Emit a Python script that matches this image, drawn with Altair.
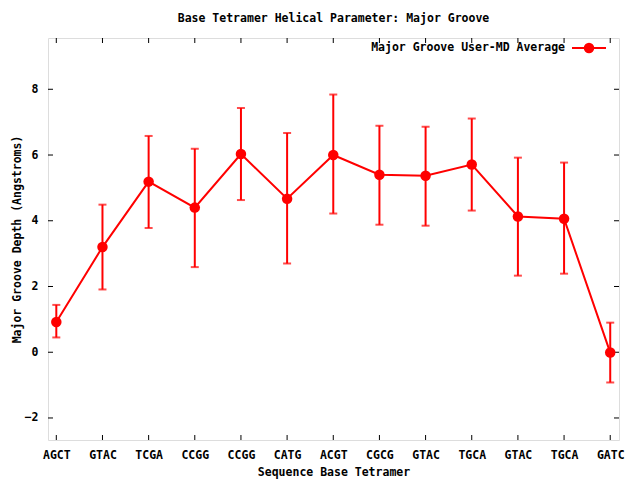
import altair as alt
import pandas as pd

labels = ["AGCT", "GTAC", "TCGA", "CCGG", "CCGG", "CATG", "ACGT", "CGCG", "GTAC", "TGCA", "GTAC", "TGCA", "GATC"]
means = [0.92, 3.20, 5.19, 4.40, 6.03, 4.67, 6.00, 5.40, 5.37, 5.71, 4.13, 4.06, -0.01]
lows = [0.45, 1.91, 3.78, 2.59, 4.63, 2.70, 4.22, 3.88, 3.85, 4.31, 2.33, 2.39, -0.92]
highs = [1.44, 4.49, 6.58, 6.19, 7.43, 6.67, 7.84, 6.89, 6.86, 7.11, 5.92, 5.77, 0.90]
y_ticks = [-2, 0, 2, 4, 6, 8]
x_ticks = list(range(len(labels)))

RED = "#ff0000"
FONT = "DejaVu Sans Mono"
FS = 11.5
W, H = 571, 402
X_DOM = [-0.18, 12.19]
Y_DOM = [-2.67, 9.56]

df = pd.DataFrame({"x": x_ticks, "y": means, "lo": lows, "hi": highs})
dyt = pd.DataFrame({"y": y_ticks})
dxt = pd.DataFrame({"x": x_ticks})
one = pd.DataFrame({"a": [0]})

label_expr = "[" + ",".join(f"'{l}'" for l in labels) + "][datum.value]"

xs = alt.Scale(domain=X_DOM, nice=False, zero=False)
ys = alt.Scale(domain=Y_DOM, nice=False, zero=False)

common = dict(domain=False, ticks=False, grid=False,
              labelFont=FONT, titleFont=FONT, labelFontSize=FS, titleFontSize=FS,
              labelFontWeight="bold", titleFontWeight="bold",
              labelColor="black", titleColor="black")
x_axis = alt.Axis(values=x_ticks, labelExpr=label_expr, title="Sequence Base Tetramer",
                  labelPadding=9, titlePadding=6, **common)
y_axis = alt.Axis(values=y_ticks, title="Major Groove Depth (Angstroms)",
                  labelPadding=10, titlePadding=2, **common)

line = alt.Chart(df).mark_line(color=RED, strokeWidth=2).encode(
    x=alt.X("x:Q", scale=xs, axis=x_axis),
    y=alt.Y("y:Q", scale=ys, axis=y_axis),
)
bars = alt.Chart(df).mark_rule(color=RED, strokeWidth=2).encode(
    x="x:Q", y="lo:Q", y2="hi:Q"
)
cap_lo = alt.Chart(df).mark_tick(color=RED, thickness=2, size=8, orient="horizontal").encode(
    x="x:Q", y="lo:Q"
)
cap_hi = alt.Chart(df).mark_tick(color=RED, thickness=2, size=8, orient="horizontal").encode(
    x="x:Q", y="hi:Q"
)
pts = alt.Chart(df).mark_point(color=RED, filled=True, opacity=1, size=110, shape="circle").encode(
    x="x:Q", y="y:Q"
)

tl = alt.Chart(dyt).mark_rule(color="black", strokeWidth=1).encode(
    y="y:Q", x=alt.value(0), x2=alt.value(5))
tr = alt.Chart(dyt).mark_rule(color="black", strokeWidth=1).encode(
    y="y:Q", x=alt.value(W - 5), x2=alt.value(W))
tb = alt.Chart(dxt).mark_rule(color="black", strokeWidth=1).encode(
    x="x:Q", y=alt.value(H - 5), y2=alt.value(H))
tt = alt.Chart(dxt).mark_rule(color="black", strokeWidth=1).encode(
    x="x:Q", y=alt.value(0), y2=alt.value(5))

leg_text = alt.Chart(one).mark_text(align="right", baseline="middle", font=FONT,
                                    fontWeight="bold", fontSize=FS, color="black").encode(
    x=alt.value(517), y=alt.value(10), text=alt.value("Major Groove User-MD Average"))
leg_line = alt.Chart(one).mark_rule(color=RED, strokeWidth=2).encode(
    x=alt.value(524), x2=alt.value(558), y=alt.value(10))
leg_pt = alt.Chart(one).mark_point(color=RED, filled=True, opacity=1, size=110, shape="circle").encode(
    x=alt.value(541), y=alt.value(10))

chart = alt.layer(
    tl, tr, tb, tt, bars, cap_lo, cap_hi, line, pts, leg_line, leg_pt, leg_text
).properties(
    width=W, height=H,
    title=alt.TitleParams("Base Tetramer Helical Parameter: Major Groove", anchor="middle",
                          font=FONT, fontSize=FS, fontWeight="bold", offset=13),
    autosize=alt.AutoSizeParams(type="none"),
    padding={"left": 40, "top": 30, "right": 13, "bottom": 40},
).configure_view(
    stroke="black", strokeWidth=1
).configure(background="white")

chart.save("out.html", embed_options={"renderer": "svg", "actions": False})
